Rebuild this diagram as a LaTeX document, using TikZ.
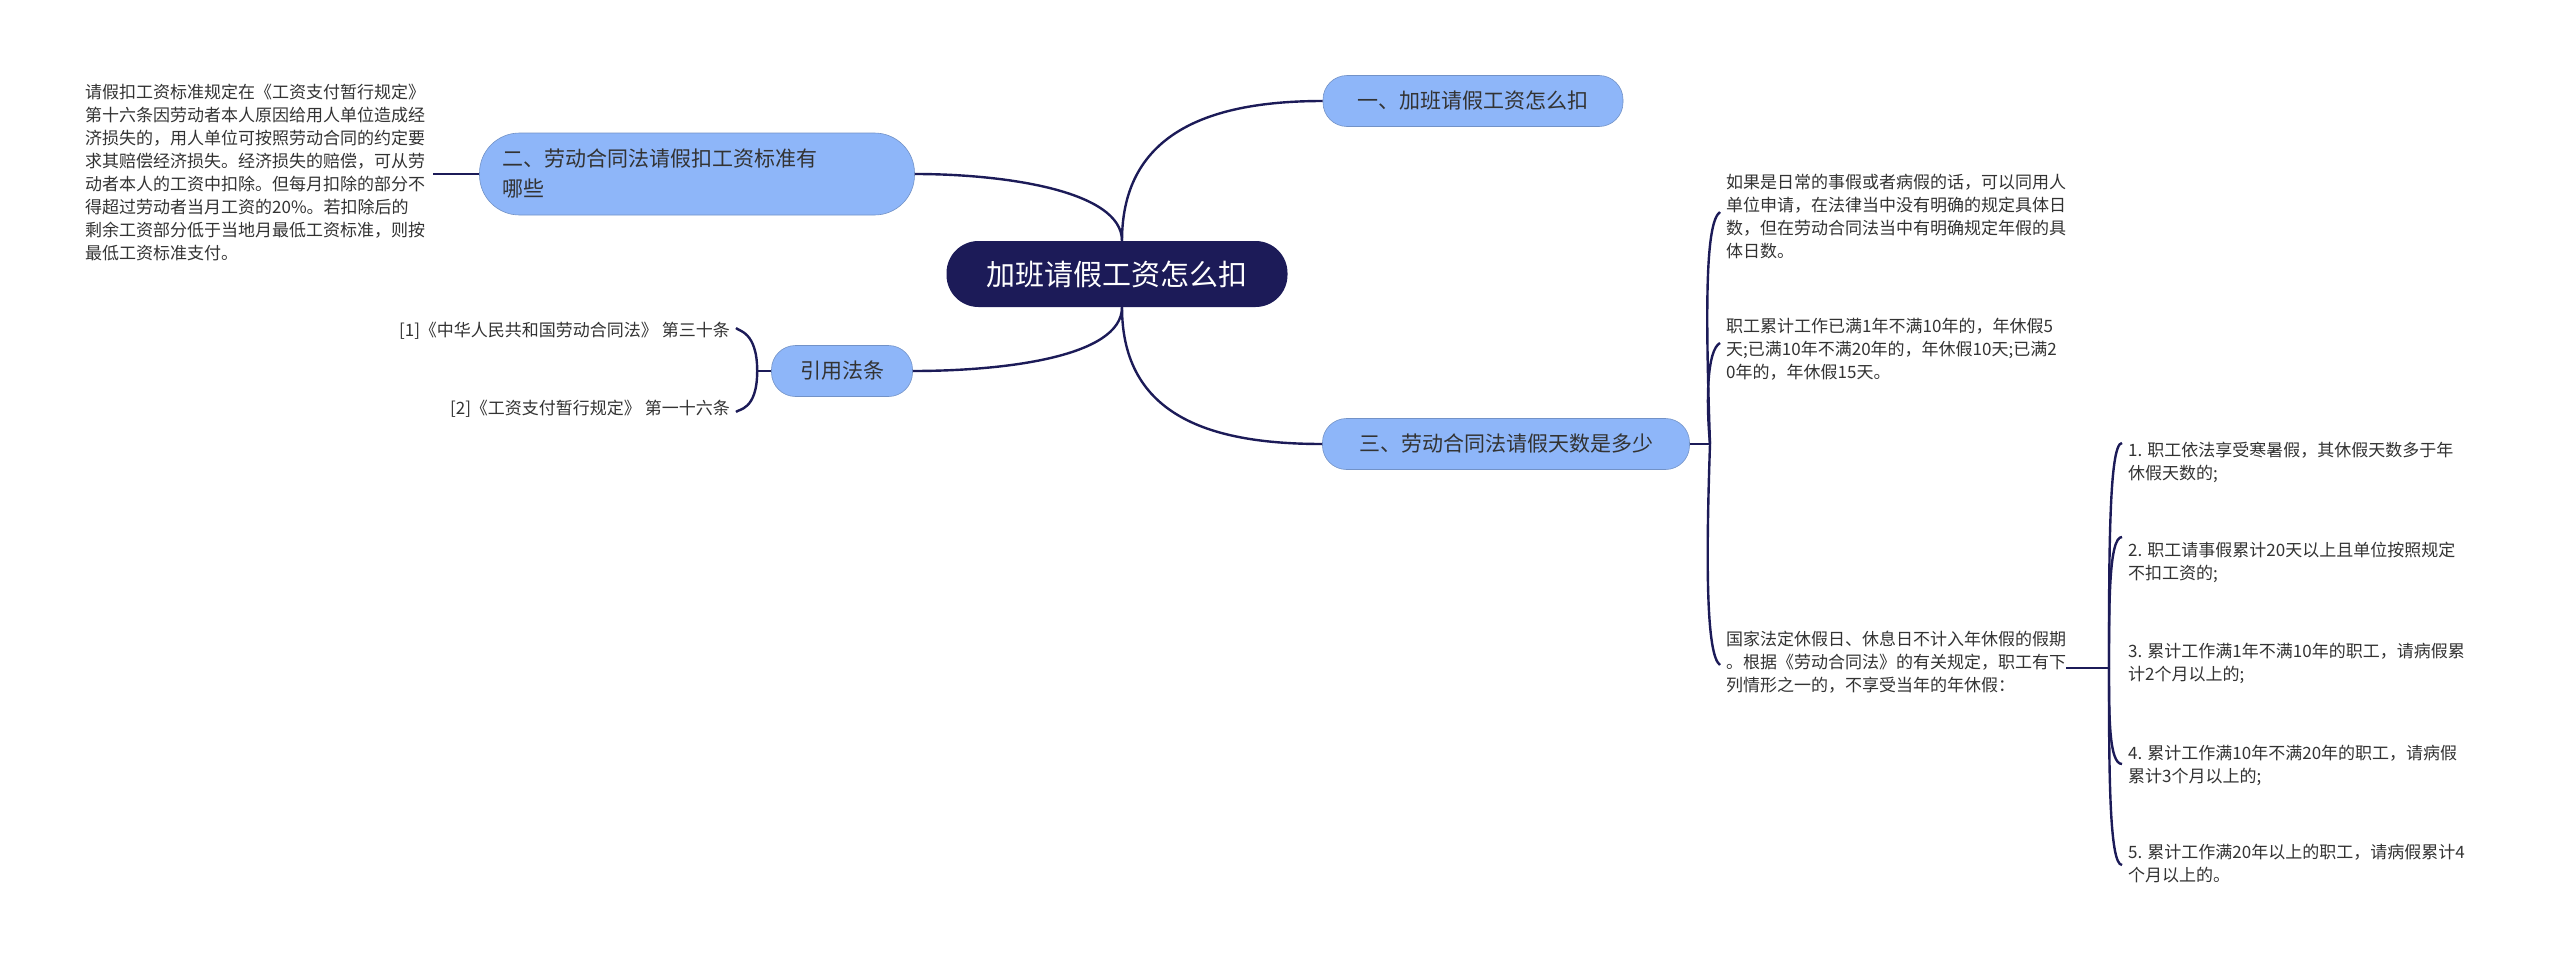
\documentclass[tikz,border=0pt]{standalone}
\usepackage{fontspec}
\setmainfont{Noto Sans CJK SC}
\usetikzlibrary{calc}
\definecolor{navy}{HTML}{1C1B58}
\definecolor{lblue}{HTML}{8EB6F9}
\definecolor{txt}{HTML}{333333}
\begin{document}
\begin{tikzpicture}[x=1pt,y=-1pt,
  topic/.style={fill=lblue,draw=lblue!80!black,line width=0.6pt,rounded corners=24pt,text=txt,font=\fontsize{21}{30}\selectfont,inner xsep=22pt,inner ysep=10pt},
  leaf/.style={text=txt,font=\fontsize{17}{23}\selectfont,align=left,inner sep=0pt},
  conn/.style={draw=navy,line width=2.4pt}]
\useasboundingbox (0,0) rectangle (2560,972);
\fill[white] (0,0) rectangle (2560,972);
\node[fill=navy,rounded corners=32pt,text=white,font=\fontsize{29}{34}\selectfont,minimum width=341pt,minimum height=66pt] (c) at (1117,274) {加班请假工资怎么扣};
\node[topic,minimum width=300pt,minimum height=51pt] (t1) at (1473,101) {一、加班请假工资怎么扣};
\node[topic,minimum width=367pt,minimum height=51pt] (t3) at (1506,444) {三、劳动合同法请假天数是多少};
\node[topic,minimum width=435pt,minimum height=82pt,align=left,text width=390pt,rounded corners=40pt] (t2) at (697,174) {二、劳动合同法请假扣工资标准有\\哪些};
\node[topic,minimum width=141pt,minimum height=51pt] (t4) at (842,371) {引用法条};
% left leaf
\node[leaf,anchor=north west] (l2) at (85,84) {请假扣工资标准规定在《工资支付暂行规定》\\第十六条因劳动者本人原因给用人单位造成经\\济损失的，用人单位可按照劳动合同的约定要\\求其赔偿经济损失。经济损失的赔偿，可从劳\\动者本人的工资中扣除。但每月扣除的部分不\\得超过劳动者当月工资的20\%。若扣除后的\\剩余工资部分低于当地月最低工资标准，则按\\最低工资标准支付。};
\node[leaf,anchor=east] (r1) at (730,331) {[1]《中华人民共和国劳动合同法》 第三十条};
\node[leaf,anchor=east] (r2) at (730,409) {[2]《工资支付暂行规定》 第一十六条};
% right leaves
\node[leaf,anchor=north west] (a1) at (1726,174) {如果是日常的事假或者病假的话，可以同用人\\单位申请，在法律当中没有明确的规定具体日\\数，但在劳动合同法当中有明确规定年假的具\\体日数。};
\node[leaf,anchor=north west] (a2) at (1726,318) {职工累计工作已满1年不满10年的，年休假5\\天;已满10年不满20年的，年休假10天;已满2\\0年的，年休假15天。};
\node[leaf,anchor=north west] (a3) at (1726,631) {国家法定休假日、休息日不计入年休假的假期\\。根据《劳动合同法》的有关规定，职工有下\\列情形之一的，不享受当年的年休假：};
\node[leaf,anchor=north west] (b1) at (2128,442) {1. 职工依法享受寒暑假，其休假天数多于年\\休假天数的;};
\node[leaf,anchor=north west] (b2) at (2128,542) {2. 职工请事假累计20天以上且单位按照规定\\不扣工资的;};
\node[leaf,anchor=north west] (b3) at (2128,643) {3. 累计工作满1年不满10年的职工，请病假累\\计2个月以上的;};
\node[leaf,anchor=north west] (b4) at (2128,745) {4. 累计工作满10年不满20年的职工，请病假\\累计3个月以上的;};
\node[leaf,anchor=north west] (b5) at (2128,844) {5. 累计工作满20年以上的职工，请病假累计4\\个月以上的。};
% main connectors
\draw[conn] ($(c.north)+(5,0)$) .. controls ($(c.north)+(5,-110)$) and ($(t1.west)+(-110,0)$) .. (t1.west);
\draw[conn] ($(c.south)+(5,0)$) .. controls ($(c.south)+(5,110)$) and ($(t3.west)+(-110,0)$) .. (t3.west);
\draw[conn] ($(c.north)+(5,0)$) .. controls ($(c.north)+(5,-50)$) and ($(t2.east)+(90,0)$) .. (t2.east);
\draw[conn] ($(c.south)+(5,0)$) .. controls ($(c.south)+(5,50)$) and ($(t4.east)+(90,0)$) .. (t4.east);
% left side
\draw[conn] (t2.west) -- ($(l2.east|-t2.west)+(8,0)$);
\coordinate (k4) at ($(t4.west)+(-14,0)$);
\draw[conn] (t4.west) -- (k4);
\draw[conn] (k4) .. controls ($(k4)+(0,-40)$) and ($(r1.east)+(8,0)$) .. ($(r1.east)+(6,-3)$);
\draw[conn] (k4) .. controls ($(k4)+(0,40)$) and ($(r2.east)+(8,0)$) .. ($(r2.east)+(6,3)$);
% right side
\coordinate (k3) at (1710,444);
\draw[conn] (t3.east) -- (k3);
\draw[conn] (k3) .. controls (1705,300) and (1706,222) .. (1720,212);
\draw[conn] (k3) .. controls (1706,400) and (1707,350) .. (1720,343);
\draw[conn] (k3) .. controls (1706,560) and (1706,655) .. (1720,665);
\coordinate (j) at (2109,668);
\draw[conn] (a3.east|-j) -- (j);
\foreach \b/\yy in {b1/443,b2/537,b5/865,b4/764}{
  \draw[conn] (j) .. controls (2109,{(668+\yy)/2}) and (2109,\yy) .. (2122,\yy);}
\end{tikzpicture}
\end{document}
